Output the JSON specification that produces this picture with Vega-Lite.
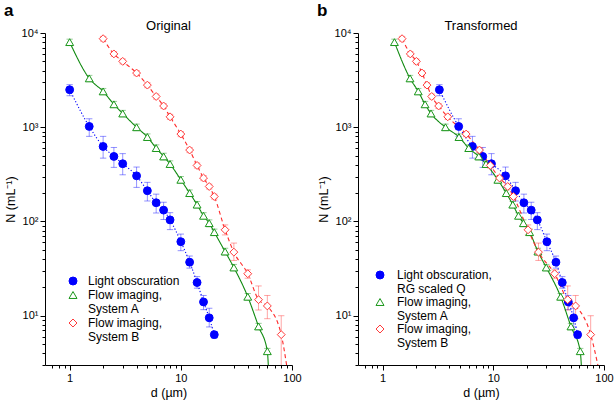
{
  "$schema": "https://vega.github.io/schema/vega-lite/v6.json",
  "padding": {"left": 4, "top": 2, "right": 2, "bottom": 2},
  "spacing": 15,
  "config": {
    "font": "Liberation Sans",
    "view": {"stroke": null},
    "axis": {"grid": false, "domainColor": "black", "tickColor": "black", "labelColor": "black", "titleColor": "black", "labelFontSize": 11, "titleFontSize": 12.5, "titleFontWeight": "normal", "labelFont": "Liberation Sans", "titleFont": "Liberation Sans", "domainWidth": 1, "tickWidth": 1, "labelFlush": false, "labelOverlap": false},
    "title": {"color": "black", "font": "Liberation Sans"}
  },
  "datasets": {
    "L": [
      {"s": "Light obscuration", "g": "LO", "d": 1, "N": 2500, "lo": 2160, "hi": 2830},
      {"s": "Light obscuration", "g": "LO", "d": 1.5, "N": 1020, "lo": 800, "hi": 1230},
      {"s": "Light obscuration", "g": "LO", "d": 2, "N": 625, "lo": 470, "hi": 800},
      {"s": "Light obscuration", "g": "LO", "d": 2.5, "N": 490, "lo": 375, "hi": 610},
      {"s": "Light obscuration", "g": "LO", "d": 3, "N": 410, "lo": 313, "hi": 525},
      {"s": "Light obscuration", "g": "LO", "d": 4, "N": 305, "lo": 230, "hi": 378},
      {"s": "Light obscuration", "g": "LO", "d": 5, "N": 212, "lo": 165, "hi": 260},
      {"s": "Light obscuration", "g": "LO", "d": 6, "N": 158, "lo": 123, "hi": 195},
      {"s": "Light obscuration", "g": "LO", "d": 7, "N": 132, "lo": 105, "hi": 160},
      {"s": "Light obscuration", "g": "LO", "d": 8, "N": 104, "lo": 82, "hi": 124},
      {"s": "Light obscuration", "g": "LO", "d": 10, "N": 61, "lo": 49, "hi": 73.5},
      {"s": "Light obscuration", "g": "LO", "d": 12, "N": 37, "lo": 32, "hi": 43},
      {"s": "Light obscuration", "g": "LO", "d": 14, "N": 22.5, "lo": 19.6, "hi": 26},
      {"s": "Light obscuration", "g": "LO", "d": 16, "N": 14, "lo": 11.6, "hi": 16.4},
      {"s": "Light obscuration", "g": "LO", "d": 18, "N": 9.5, "lo": 7.6, "hi": 12},
      {"s": "Light obscuration", "g": "LO", "d": 20, "N": 6.3, "lo": 5.8, "hi": 6.8},
      {"s": "Flow imaging,|System A", "g": "A", "d": 1, "N": 8000, "lo": 7400, "hi": 8600},
      {"s": "Flow imaging,|System A", "g": "A", "d": 1.5, "N": 3300, "lo": 3050, "hi": 3550},
      {"s": "Flow imaging,|System A", "g": "A", "d": 2, "N": 2400, "lo": 2220, "hi": 2580},
      {"s": "Flow imaging,|System A", "g": "A", "d": 2.5, "N": 1750, "lo": 1620, "hi": 1880},
      {"s": "Flow imaging,|System A", "g": "A", "d": 3, "N": 1400, "lo": 1290, "hi": 1510},
      {"s": "Flow imaging,|System A", "g": "A", "d": 4, "N": 1000, "lo": 920, "hi": 1080},
      {"s": "Flow imaging,|System A", "g": "A", "d": 5, "N": 787, "lo": 725, "hi": 850},
      {"s": "Flow imaging,|System A", "g": "A", "d": 6, "N": 601, "lo": 555, "hi": 650},
      {"s": "Flow imaging,|System A", "g": "A", "d": 7, "N": 490, "lo": 450, "hi": 530},
      {"s": "Flow imaging,|System A", "g": "A", "d": 8, "N": 407, "lo": 375, "hi": 440},
      {"s": "Flow imaging,|System A", "g": "A", "d": 10, "N": 277, "lo": 255, "hi": 300},
      {"s": "Flow imaging,|System A", "g": "A", "d": 12, "N": 200, "lo": 184, "hi": 216},
      {"s": "Flow imaging,|System A", "g": "A", "d": 14, "N": 151, "lo": 139, "hi": 163},
      {"s": "Flow imaging,|System A", "g": "A", "d": 16, "N": 115, "lo": 106, "hi": 124},
      {"s": "Flow imaging,|System A", "g": "A", "d": 18, "N": 96, "lo": 88, "hi": 104},
      {"s": "Flow imaging,|System A", "g": "A", "d": 20, "N": 77, "lo": 71, "hi": 83},
      {"s": "Flow imaging,|System A", "g": "A", "d": 25, "N": 48, "lo": 44, "hi": 52},
      {"s": "Flow imaging,|System A", "g": "A", "d": 30, "N": 32.5, "lo": 30, "hi": 35},
      {"s": "Flow imaging,|System A", "g": "A", "d": 40, "N": 15.9, "lo": 14.6, "hi": 17.2},
      {"s": "Flow imaging,|System A", "g": "A", "d": 50, "N": 7.7, "lo": 7.1, "hi": 8.3},
      {"s": "Flow imaging,|System A", "g": "A", "d": 60, "N": 4.2, "lo": 3.9, "hi": 4.5},
      {"s": "Flow imaging,|System A", "g": "A", "d": 61.2, "N": 3, "tail": true},
      {"s": "Flow imaging,|System B", "g": "B", "d": 2, "N": 8700, "lo": 8200, "hi": 9200},
      {"s": "Flow imaging,|System B", "g": "B", "d": 2.5, "N": 6000, "lo": 5650, "hi": 6350},
      {"s": "Flow imaging,|System B", "g": "B", "d": 3, "N": 5000, "lo": 4700, "hi": 5300},
      {"s": "Flow imaging,|System B", "g": "B", "d": 4, "N": 3760, "lo": 3530, "hi": 3990},
      {"s": "Flow imaging,|System B", "g": "B", "d": 5, "N": 2800, "lo": 2630, "hi": 2970},
      {"s": "Flow imaging,|System B", "g": "B", "d": 6, "N": 2120, "lo": 1990, "hi": 2250},
      {"s": "Flow imaging,|System B", "g": "B", "d": 7, "N": 1680, "lo": 1580, "hi": 1780},
      {"s": "Flow imaging,|System B", "g": "B", "d": 8, "N": 1290, "lo": 1210, "hi": 1370},
      {"s": "Flow imaging,|System B", "g": "B", "d": 10, "N": 847, "lo": 795, "hi": 900},
      {"s": "Flow imaging,|System B", "g": "B", "d": 12, "N": 573, "lo": 538, "hi": 608},
      {"s": "Flow imaging,|System B", "g": "B", "d": 14, "N": 393, "lo": 369, "hi": 417},
      {"s": "Flow imaging,|System B", "g": "B", "d": 16, "N": 289, "lo": 271, "hi": 307},
      {"s": "Flow imaging,|System B", "g": "B", "d": 18, "N": 235, "lo": 221, "hi": 249},
      {"s": "Flow imaging,|System B", "g": "B", "d": 20, "N": 184, "lo": 173, "hi": 195},
      {"s": "Flow imaging,|System B", "g": "B", "d": 25, "N": 81.6, "lo": 72, "hi": 92},
      {"s": "Flow imaging,|System B", "g": "B", "d": 30, "N": 47.3, "lo": 38.6, "hi": 59},
      {"s": "Flow imaging,|System B", "g": "B", "d": 40, "N": 27.9, "lo": 25, "hi": 30.7},
      {"s": "Flow imaging,|System B", "g": "B", "d": 50, "N": 14.8, "lo": 11.5, "hi": 20.7},
      {"s": "Flow imaging,|System B", "g": "B", "d": 60, "N": 12.7, "lo": 9.3, "hi": 16.4},
      {"s": "Flow imaging,|System B", "g": "B", "d": 80, "N": 6.3, "lo": 1, "hi": 10},
      {"s": "Flow imaging,|System B", "g": "B", "d": 89.4, "N": 3, "tail": true}
    ],
    "R": [
      {"s": "Light obscuration,|RG scaled Q", "g": "LO", "d": 3.26, "N": 2500, "lo": 2160, "hi": 2830},
      {"s": "Light obscuration,|RG scaled Q", "g": "LO", "d": 4.87, "N": 1020, "lo": 800, "hi": 1230},
      {"s": "Light obscuration,|RG scaled Q", "g": "LO", "d": 6.48, "N": 625, "lo": 470, "hi": 800},
      {"s": "Light obscuration,|RG scaled Q", "g": "LO", "d": 8.03, "N": 490, "lo": 375, "hi": 610},
      {"s": "Light obscuration,|RG scaled Q", "g": "LO", "d": 9.63, "N": 410, "lo": 313, "hi": 525},
      {"s": "Light obscuration,|RG scaled Q", "g": "LO", "d": 12.9, "N": 305, "lo": 230, "hi": 378},
      {"s": "Light obscuration,|RG scaled Q", "g": "LO", "d": 15.9, "N": 212, "lo": 165, "hi": 260},
      {"s": "Light obscuration,|RG scaled Q", "g": "LO", "d": 18.9, "N": 158, "lo": 123, "hi": 195},
      {"s": "Light obscuration,|RG scaled Q", "g": "LO", "d": 22, "N": 132, "lo": 105, "hi": 160},
      {"s": "Light obscuration,|RG scaled Q", "g": "LO", "d": 25, "N": 104, "lo": 82, "hi": 124},
      {"s": "Light obscuration,|RG scaled Q", "g": "LO", "d": 30.5, "N": 61, "lo": 49, "hi": 73.5},
      {"s": "Light obscuration,|RG scaled Q", "g": "LO", "d": 36.8, "N": 37, "lo": 32, "hi": 43},
      {"s": "Light obscuration,|RG scaled Q", "g": "LO", "d": 42, "N": 22.5, "lo": 19.6, "hi": 26},
      {"s": "Light obscuration,|RG scaled Q", "g": "LO", "d": 47.6, "N": 14, "lo": 11.6, "hi": 16.4},
      {"s": "Light obscuration,|RG scaled Q", "g": "LO", "d": 53.2, "N": 9.5, "lo": 7.6, "hi": 12},
      {"s": "Light obscuration,|RG scaled Q", "g": "LO", "d": 57.8, "N": 6.3, "lo": 5.8, "hi": 6.8},
      {"s": "Flow imaging,|System A", "g": "A", "d": 1.28, "N": 8000, "lo": 7400, "hi": 8600},
      {"s": "Flow imaging,|System A", "g": "A", "d": 1.77, "N": 3300, "lo": 3050, "hi": 3550},
      {"s": "Flow imaging,|System A", "g": "A", "d": 2.1, "N": 2400, "lo": 2220, "hi": 2580},
      {"s": "Flow imaging,|System A", "g": "A", "d": 2.42, "N": 1750, "lo": 1620, "hi": 1880},
      {"s": "Flow imaging,|System A", "g": "A", "d": 2.74, "N": 1400, "lo": 1290, "hi": 1510},
      {"s": "Flow imaging,|System A", "g": "A", "d": 3.7, "N": 1000, "lo": 920, "hi": 1080},
      {"s": "Flow imaging,|System A", "g": "A", "d": 4.9, "N": 787, "lo": 725, "hi": 850},
      {"s": "Flow imaging,|System A", "g": "A", "d": 6.0, "N": 601, "lo": 555, "hi": 650},
      {"s": "Flow imaging,|System A", "g": "A", "d": 7.4, "N": 490, "lo": 450, "hi": 530},
      {"s": "Flow imaging,|System A", "g": "A", "d": 8.6, "N": 407, "lo": 375, "hi": 440},
      {"s": "Flow imaging,|System A", "g": "A", "d": 11, "N": 277, "lo": 255, "hi": 300},
      {"s": "Flow imaging,|System A", "g": "A", "d": 13.1, "N": 200, "lo": 184, "hi": 216},
      {"s": "Flow imaging,|System A", "g": "A", "d": 15, "N": 151, "lo": 139, "hi": 163},
      {"s": "Flow imaging,|System A", "g": "A", "d": 16.9, "N": 115, "lo": 106, "hi": 124},
      {"s": "Flow imaging,|System A", "g": "A", "d": 18.7, "N": 96, "lo": 88, "hi": 104},
      {"s": "Flow imaging,|System A", "g": "A", "d": 21.3, "N": 77, "lo": 71, "hi": 83},
      {"s": "Flow imaging,|System A", "g": "A", "d": 25.3, "N": 48, "lo": 44, "hi": 52},
      {"s": "Flow imaging,|System A", "g": "A", "d": 30.1, "N": 32.5, "lo": 30, "hi": 35},
      {"s": "Flow imaging,|System A", "g": "A", "d": 40.6, "N": 15.9, "lo": 14.6, "hi": 17.2},
      {"s": "Flow imaging,|System A", "g": "A", "d": 50.3, "N": 7.7, "lo": 7.1, "hi": 8.3},
      {"s": "Flow imaging,|System A", "g": "A", "d": 61, "N": 4.2, "lo": 3.9, "hi": 4.5},
      {"s": "Flow imaging,|System A", "g": "A", "d": 62.4, "N": 3, "tail": true},
      {"s": "Flow imaging,|System B", "g": "B", "d": 1.5, "N": 8700, "lo": 8200, "hi": 9200},
      {"s": "Flow imaging,|System B", "g": "B", "d": 1.78, "N": 6000, "lo": 5650, "hi": 6350},
      {"s": "Flow imaging,|System B", "g": "B", "d": 2.02, "N": 5000, "lo": 4700, "hi": 5300},
      {"s": "Flow imaging,|System B", "g": "B", "d": 2.27, "N": 3760, "lo": 3530, "hi": 3990},
      {"s": "Flow imaging,|System B", "g": "B", "d": 2.52, "N": 2800, "lo": 2630, "hi": 2970},
      {"s": "Flow imaging,|System B", "g": "B", "d": 2.78, "N": 2120, "lo": 1990, "hi": 2250},
      {"s": "Flow imaging,|System B", "g": "B", "d": 3.21, "N": 1680, "lo": 1580, "hi": 1780},
      {"s": "Flow imaging,|System B", "g": "B", "d": 3.88, "N": 1290, "lo": 1210, "hi": 1370},
      {"s": "Flow imaging,|System B", "g": "B", "d": 5.69, "N": 847, "lo": 795, "hi": 900},
      {"s": "Flow imaging,|System B", "g": "B", "d": 7.5, "N": 573, "lo": 538, "hi": 608},
      {"s": "Flow imaging,|System B", "g": "B", "d": 9.4, "N": 393, "lo": 369, "hi": 417},
      {"s": "Flow imaging,|System B", "g": "B", "d": 11.4, "N": 289, "lo": 271, "hi": 307},
      {"s": "Flow imaging,|System B", "g": "B", "d": 13.5, "N": 235, "lo": 221, "hi": 249},
      {"s": "Flow imaging,|System B", "g": "B", "d": 15.2, "N": 184, "lo": 173, "hi": 195},
      {"s": "Flow imaging,|System B", "g": "B", "d": 20.6, "N": 81.6, "lo": 72, "hi": 92},
      {"s": "Flow imaging,|System B", "g": "B", "d": 25.6, "N": 47.3, "lo": 38.6, "hi": 59},
      {"s": "Flow imaging,|System B", "g": "B", "d": 35.8, "N": 27.9, "lo": 25, "hi": 30.7},
      {"s": "Flow imaging,|System B", "g": "B", "d": 47, "N": 14.8, "lo": 11.5, "hi": 20.7},
      {"s": "Flow imaging,|System B", "g": "B", "d": 55.4, "N": 12.7, "lo": 9.3, "hi": 16.4},
      {"s": "Flow imaging,|System B", "g": "B", "d": 75.8, "N": 6.3, "lo": 1, "hi": 10},
      {"s": "Flow imaging,|System B", "g": "B", "d": 88, "N": 3, "tail": true}
    ]
  },
  "resolve": {"scale": {"color": "independent", "stroke": "independent", "fill": "independent", "shape": "independent", "strokeDash": "independent"}},
  "hconcat": [
    {
      "resolve": {"scale": {"color": "independent", "stroke": "independent", "fill": "independent", "shape": "independent", "strokeDash": "independent"}},
      "title": {"text": "a", "anchor": "start", "fontSize": 17, "fontWeight": "bold", "offset": 0},
      "vconcat": [
        {
          "title": {"text": "Original", "fontSize": 13, "fontWeight": "normal", "offset": -6},
          "width": 247,
          "height": 332,
          "data": {"name": "L"},
          "resolve": {"axis": {"x": "independent", "y": "independent"}},
          "layer": [
            {
              "transform": [{"filter": "isValid(datum.lo)"}],
              "mark": {"type": "rule", "clip": true, "strokeWidth": 1, "opacity": 0.42},
              "encoding": {
                "x": {"field": "d", "type": "quantitative", "scale": {"type": "log", "domain": [0.6, 100], "nice": false}, "axis": {"orient": "bottom", "values": [1, 10, 100], "labelExpr": "datum.value + ''", "tickSize": 5, "title": "d (µm)", "titlePadding": 3}},
                "y": {"field": "lo", "type": "quantitative", "scale": {"type": "log", "domain": [3, 10000], "nice": false}, "axis": {"orient": "left", "values": [10, 100, 1000, 10000], "labelExpr": "datum.value == 10 ? '10¹' : datum.value == 100 ? '10²' : datum.value == 1000 ? '10³' : '10⁴'", "labelAlign": "right", "labelPadding": 2, "tickSize": 5, "title": "N (mL⁻¹)", "titlePadding": 4}},
                "y2": {"field": "hi"},
                "color": {"field": "g", "type": "nominal", "scale": {"domain": ["LO", "A", "B"], "range": ["#0000ff", "#108a10", "#ff2a2a"]}, "legend": null}
              }
            },
            {
              "transform": [{"filter": "isValid(datum.lo)"}, {"fold": ["lo", "hi"], "as": ["k", "v"]}],
              "mark": {"type": "point", "shape": "stroke", "size": 40, "clip": true, "strokeWidth": 1, "opacity": 0.42},
              "encoding": {
                "x": {"field": "d", "type": "quantitative", "axis": {"orient": "bottom", "values": [0.7, 0.8, 0.9, 2, 3, 4, 5, 6, 7, 8, 9, 20, 30, 40, 50, 60, 70, 80, 90], "labels": false, "tickSize": 3, "domain": false, "title": null}},
                "y": {"field": "v", "type": "quantitative", "axis": {"orient": "left", "values": [3, 4, 5, 6, 7, 8, 9, 20, 30, 40, 50, 60, 70, 80, 90, 200, 300, 400, 500, 600, 700, 800, 900, 2000, 3000, 4000, 5000, 6000, 7000, 8000, 9000], "labels": false, "tickSize": 3, "domain": false, "title": null}},
                "color": {"field": "g", "type": "nominal", "legend": null}
              }
            },
            {
              "mark": {"type": "line", "clip": true, "strokeWidth": 1.1, "interpolate": "monotone"},
              "encoding": {
                "x": {"field": "d", "type": "quantitative", "axis": null},
                "y": {"field": "N", "type": "quantitative", "axis": null},
                "color": {"field": "g", "type": "nominal", "legend": null},
                "strokeDash": {"field": "g", "type": "nominal", "scale": {"domain": ["LO", "A", "B"], "range": [[1.2, 2], [1, 0], [4, 3]]}, "legend": null}
              }
            },
            {
              "transform": [{"filter": "!datum.tail"}],
              "mark": {"type": "point", "clip": true, "strokeWidth": 1, "opacity": 1, "size": 62},
              "encoding": {
                "x": {"field": "d", "type": "quantitative", "axis": null},
                "y": {"field": "N", "type": "quantitative", "axis": null},
                "stroke": {"field": "s", "type": "nominal", "scale": {"domain": ["Light obscuration", "Flow imaging,|System A", "Flow imaging,|System B"], "range": ["#0000ff", "#1a961a", "#ff3a3a"]},
                  "legend": {"orient": "bottom-left", "offset": 22, "title": null, "padding": 0, "symbolSize": 64, "symbolStrokeWidth": 1, "labelExpr": "split(datum.label, '|')", "labelFontSize": 12, "labelColor": "black", "labelOffset": 9, "rowPadding": 2}},
                "fill": {"field": "s", "type": "nominal", "scale": {"domain": ["Light obscuration", "Flow imaging,|System A", "Flow imaging,|System B"], "range": ["#0000ff", "white", "white"]},
                  "legend": {"orient": "bottom-left", "offset": 22, "title": null, "padding": 0, "symbolSize": 64, "symbolStrokeWidth": 1, "labelExpr": "split(datum.label, '|')", "labelFontSize": 12, "labelColor": "black", "labelOffset": 9, "rowPadding": 2}},
                "shape": {"field": "s", "type": "nominal", "scale": {"domain": ["Light obscuration", "Flow imaging,|System A", "Flow imaging,|System B"], "range": ["circle", "triangle-up", "diamond"]},
                  "legend": {"orient": "bottom-left", "offset": 22, "title": null, "padding": 0, "symbolSize": 64, "symbolStrokeWidth": 1, "labelExpr": "split(datum.label, '|')", "labelFontSize": 12, "labelColor": "black", "labelOffset": 9, "rowPadding": 2}}
              }
            }
          ]
        }
      ]
    },
    {
      "resolve": {"scale": {"color": "independent", "stroke": "independent", "fill": "independent", "shape": "independent", "strokeDash": "independent"}},
      "title": {"text": "b", "anchor": "start", "fontSize": 17, "fontWeight": "bold", "offset": 0},
      "vconcat": [
        {
          "title": {"text": "Transformed", "fontSize": 13, "fontWeight": "normal", "offset": -6},
          "width": 246,
          "height": 332,
          "data": {"name": "R"},
          "resolve": {"axis": {"x": "independent", "y": "independent"}},
          "layer": [
            {
              "transform": [{"filter": "isValid(datum.lo)"}],
              "mark": {"type": "rule", "clip": true, "strokeWidth": 1, "opacity": 0.42},
              "encoding": {
                "x": {"field": "d", "type": "quantitative", "scale": {"type": "log", "domain": [0.6, 100], "nice": false}, "axis": {"orient": "bottom", "values": [1, 10, 100], "labelExpr": "datum.value + ''", "tickSize": 5, "title": "d (µm)", "titlePadding": 3}},
                "y": {"field": "lo", "type": "quantitative", "scale": {"type": "log", "domain": [3, 10000], "nice": false}, "axis": {"orient": "left", "values": [10, 100, 1000, 10000], "labelExpr": "datum.value == 10 ? '10¹' : datum.value == 100 ? '10²' : datum.value == 1000 ? '10³' : '10⁴'", "labelAlign": "right", "labelPadding": 2, "tickSize": 5, "title": "N (mL⁻¹)", "titlePadding": 4}},
                "y2": {"field": "hi"},
                "color": {"field": "g", "type": "nominal", "scale": {"domain": ["LO", "A", "B"], "range": ["#0000ff", "#108a10", "#ff2a2a"]}, "legend": null}
              }
            },
            {
              "transform": [{"filter": "isValid(datum.lo)"}, {"fold": ["lo", "hi"], "as": ["k", "v"]}],
              "mark": {"type": "point", "shape": "stroke", "size": 40, "clip": true, "strokeWidth": 1, "opacity": 0.42},
              "encoding": {
                "x": {"field": "d", "type": "quantitative", "axis": {"orient": "bottom", "values": [0.7, 0.8, 0.9, 2, 3, 4, 5, 6, 7, 8, 9, 20, 30, 40, 50, 60, 70, 80, 90], "labels": false, "tickSize": 3, "domain": false, "title": null}},
                "y": {"field": "v", "type": "quantitative", "axis": {"orient": "left", "values": [3, 4, 5, 6, 7, 8, 9, 20, 30, 40, 50, 60, 70, 80, 90, 200, 300, 400, 500, 600, 700, 800, 900, 2000, 3000, 4000, 5000, 6000, 7000, 8000, 9000], "labels": false, "tickSize": 3, "domain": false, "title": null}},
                "color": {"field": "g", "type": "nominal", "legend": null}
              }
            },
            {
              "mark": {"type": "line", "clip": true, "strokeWidth": 1.1, "interpolate": "monotone"},
              "encoding": {
                "x": {"field": "d", "type": "quantitative", "axis": null},
                "y": {"field": "N", "type": "quantitative", "axis": null},
                "color": {"field": "g", "type": "nominal", "legend": null},
                "strokeDash": {"field": "g", "type": "nominal", "scale": {"domain": ["LO", "A", "B"], "range": [[1.2, 2], [1, 0], [4, 3]]}, "legend": null}
              }
            },
            {
              "transform": [{"filter": "!datum.tail"}],
              "mark": {"type": "point", "clip": true, "strokeWidth": 1, "opacity": 1, "size": 62},
              "encoding": {
                "x": {"field": "d", "type": "quantitative", "axis": null},
                "y": {"field": "N", "type": "quantitative", "axis": null},
                "stroke": {"field": "s", "type": "nominal", "scale": {"domain": ["Light obscuration,|RG scaled Q", "Flow imaging,|System A", "Flow imaging,|System B"], "range": ["#0000ff", "#1a961a", "#ff3a3a"]},
                  "legend": {"orient": "bottom-left", "offset": 16, "title": null, "padding": 0, "symbolSize": 64, "symbolStrokeWidth": 1, "labelExpr": "split(datum.label, '|')", "labelFontSize": 12, "labelColor": "black", "labelOffset": 11, "rowPadding": 1}},
                "fill": {"field": "s", "type": "nominal", "scale": {"domain": ["Light obscuration,|RG scaled Q", "Flow imaging,|System A", "Flow imaging,|System B"], "range": ["#0000ff", "white", "white"]},
                  "legend": {"orient": "bottom-left", "offset": 16, "title": null, "padding": 0, "symbolSize": 64, "symbolStrokeWidth": 1, "labelExpr": "split(datum.label, '|')", "labelFontSize": 12, "labelColor": "black", "labelOffset": 11, "rowPadding": 1}},
                "shape": {"field": "s", "type": "nominal", "scale": {"domain": ["Light obscuration,|RG scaled Q", "Flow imaging,|System A", "Flow imaging,|System B"], "range": ["circle", "triangle-up", "diamond"]},
                  "legend": {"orient": "bottom-left", "offset": 16, "title": null, "padding": 0, "symbolSize": 64, "symbolStrokeWidth": 1, "labelExpr": "split(datum.label, '|')", "labelFontSize": 12, "labelColor": "black", "labelOffset": 11, "rowPadding": 1}}
              }
            }
          ]
        }
      ]
    }
  ]
}
